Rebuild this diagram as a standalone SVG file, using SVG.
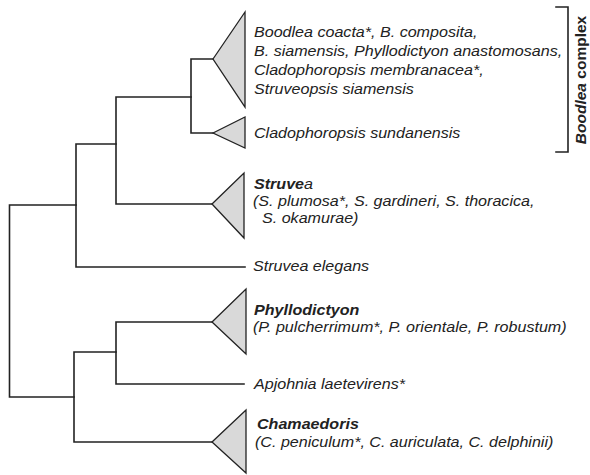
<svg xmlns="http://www.w3.org/2000/svg" width="590" height="475" viewBox="0 0 590 475">
<style>
.br{fill:none;stroke:#222;stroke-width:1.6;stroke-linecap:square;stroke-linejoin:miter}
.tri{fill:#d9d9d9;stroke:#222;stroke-width:1.3;stroke-linejoin:miter}
.t{font-family:"Liberation Sans",Arial,sans-serif;font-size:14.5px;font-style:italic;fill:#222}
.b{font-weight:bold}
.lab{font-family:"Liberation Sans",Arial,sans-serif;font-size:15.5px;font-weight:bold;fill:#222}
</style>
<rect width="590" height="475" fill="#fff"/>
<g id="connectors">
<path class="br" d="M76,205 H9.5 V397 H74"/>
<path class="br" d="M116,144 H76 V267 H245"/>
<path class="br" d="M191,97 H116 V204 H212"/>
<path class="br" d="M213,59 H191 V133 H213"/>
<path class="br" d="M116,352 H74 V442 H212"/>
<path class="br" d="M212,322 H116 V384 H244"/>
</g>
<g id="boodlea-group">
<polygon class="tri" points="213,59 245,12 245,107"/>
<text class="t" transform="translate(254,37) scale(1.11,1)">Boodlea coacta*, B. composita,</text>
<text class="t" transform="translate(254,56) scale(1.11,1)">B. siamensis, Phyllodictyon anastomosans,</text>
<text class="t" transform="translate(254,75) scale(1.11,1)">Cladophoropsis membranacea*,</text>
<text class="t" transform="translate(254,94) scale(1.11,1)">Struveopsis siamensis</text>
</g>
<g id="cladophoropsis-sundanensis">
<polygon class="tri" points="213,133 245,117 245,148"/>
<text class="t" transform="translate(254,138) scale(1.11,1)">Cladophoropsis sundanensis</text>
</g>
<g id="struvea">
<polygon class="tri" points="212,204 244,173 244,238"/>
<text class="t" transform="translate(254,189) scale(1.11,1)"><tspan class="b">Struve</tspan>a</text>
<text class="t" transform="translate(253,206) scale(1.11,1)">(S. plumosa*, S. gardineri, S. thoracica,</text>
<text class="t" transform="translate(262,223) scale(1.11,1)">S. okamurae)</text>
</g>
<g id="struvea-elegans">
<text class="t" transform="translate(253,271) scale(1.11,1)">Struvea elegans</text>
</g>
<g id="phyllodictyon">
<polygon class="tri" points="212,322 246,289 246,354"/>
<text class="t b" transform="translate(254,315) scale(1.11,1)">Phyllodictyon</text>
<text class="t" transform="translate(253,332) scale(1.11,1)">(P. pulcherrimum*, P. orientale, P. robustum)</text>
</g>
<g id="apjohnia">
<text class="t" transform="translate(254,389) scale(1.11,1)">Apjohnia laetevirens*</text>
</g>
<g id="chamaedoris">
<polygon class="tri" points="212,442 246,410 246,473"/>
<text class="t b" transform="translate(257,429) scale(1.11,1)">Chamaedoris</text>
<text class="t" transform="translate(255,447) scale(1.11,1)">(C. peniculum*, C. auriculata, C. delphinii)</text>
</g>
<g id="boodlea-complex">
<path class="br" d="M556,7 H568 V152 H556"/>
<text class="lab" transform="translate(585.5,80) rotate(-90)" text-anchor="middle"><tspan font-style="italic">Boodlea</tspan> complex</text>
</g>
</svg>
